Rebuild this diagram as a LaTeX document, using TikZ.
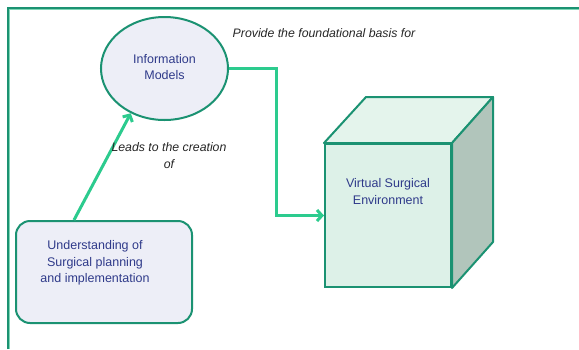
\documentclass[tikz,border=0pt]{standalone}
\usepackage{fontspec}
\setmainfont{Liberation Sans}
\usetikzlibrary{arrows.meta,shapes.geometric,calc}
\definecolor{framec}{HTML}{1B9272}
\definecolor{framelight}{HTML}{7FD6B6}
\definecolor{conn}{HTML}{2CCB8E}
\definecolor{txt}{HTML}{2F3A8A}
\definecolor{lav}{HTML}{EDEEF7}
\definecolor{frontf}{HTML}{DDF1E8}
\definecolor{topf}{HTML}{E4F4EC}
\definecolor{sidef}{HTML}{B1C5BB}
\begin{document}
\begin{tikzpicture}[x=1pt,y=-1pt,
  bodytext/.style={text=txt,font=\fontsize{12.5}{16.5}\selectfont,align=center},
  labeltext/.style={text=black!85,font=\fontsize{12.3}{16.5}\selectfont\itshape,align=center},
  conline/.style={draw=conn,line width=3pt,-{Straight Barb[length=5pt,width=11pt,line width=3pt]}},
  shapeline/.style={draw=framec,line width=2pt}]
\useasboundingbox (0,0) rectangle (579,349);
\draw[framelight,line width=1pt] (9.6,349) -- (9.6,9.6) -- (579,9.6);
\draw[framec,line width=2.2pt] (8,349) -- (8,8) -- (579,8);
% ellipse
\node[ellipse,shapeline,fill=lav,minimum width=127pt,minimum height=103pt,inner sep=0pt] (im) at (164.5,68.5) {};
\node[bodytext] (imt) at (164.5,67) {Information\\Models};
% rounded box
\node[shapeline,fill=lav,rounded corners=14pt,minimum width=176pt,minimum height=102pt,inner sep=0pt] (us) at (104,272) {};
\node[bodytext] (ust) at (95,263) {Understanding of\\Surgical planning\\and implementation};
% cube
\node[shapeline,fill=frontf,minimum width=126pt,minimum height=143pt,inner sep=0pt] (vs) at (388,215.5) {};
\draw[shapeline,fill=topf,line join=round] (vs.north west) -- ++(42,-46) -- ($(vs.north east)+(41,-46)$) -- (vs.north east) -- cycle;
\draw[shapeline,fill=sidef,line join=round] (vs.north east) -- ++(41,-46) -- ($(vs.south east)+(41,-46)$) -- (vs.south east) -- cycle;
\node[bodytext] (vst) at (388,191.5) {Virtual Surgical\\Environment};
% connectors
\draw[conline] ($(us.north)+(-30,0)$) -- (im.233);
\draw[conline] (im.east) -- ++(47,0) |- (vs.west);
% labels
\node[labeltext] (l1) at (324,33) {Provide the foundational basis for};
\node[labeltext] (l2) at (169,155.5) {Leads to the creation\\of};
\end{tikzpicture}
\end{document}
